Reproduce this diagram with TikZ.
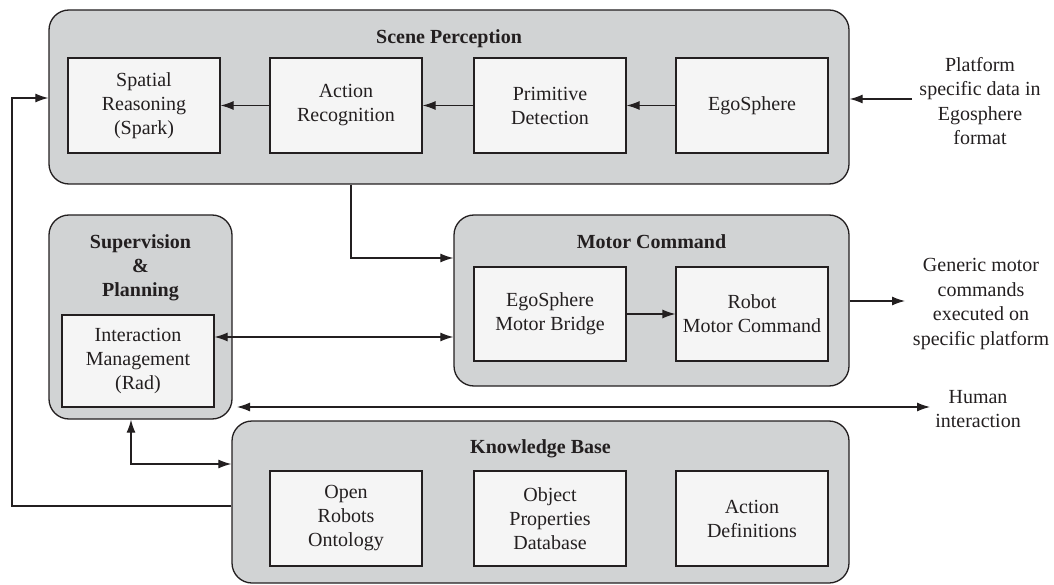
\documentclass[tikz,border=0pt]{standalone}
\usepackage{fontspec}
\setmainfont{Liberation Serif}
\usetikzlibrary{arrows.meta}
\definecolor{outerfill}{HTML}{D1D3D4}
\definecolor{innerfill}{HTML}{F5F5F5}
\definecolor{ink}{HTML}{231F20}
\begin{document}
\begin{tikzpicture}[x=1pt,y=-1pt,
  outerbox/.style={draw=ink, line width=1.3pt, fill=outerfill, rounded corners=20pt, inner sep=0pt},
  innerbox/.style={draw=ink, line width=1.2pt, fill=innerfill, minimum width=152pt, minimum height=95pt, inner sep=0pt, align=center, text=ink, font=\fontsize{20}{24}\selectfont},
  title/.style={font=\fontsize{20}{24}\selectfont\bfseries, align=center, inner sep=0pt, text=ink},
  lbl/.style={font=\fontsize{20}{24.5}\selectfont, align=center, inner sep=0pt, text=ink},
  tip/.style={},
  conn/.style={draw=ink, line width=1.2pt, -{Latex[length=13pt,width=9pt]}},
  biconn/.style={draw=ink, line width=1.2pt, {Latex[length=13pt,width=9pt]}-{Latex[length=13pt,width=9pt]}},
  ]
\useasboundingbox (0,0) rectangle (1054,585);

% outer groups
\node[outerbox, minimum width=800pt, minimum height=174pt] (sp) at (449,97) {};
\node[outerbox, minimum width=183pt, minimum height=204pt] (sup) at (140.5,317) {};
\node[outerbox, minimum width=395pt, minimum height=171pt] (mc) at (651.5,300.5) {};
\node[outerbox, minimum width=617pt, minimum height=162pt] (kb) at (540.5,502) {};

% titles
\node[title, anchor=base] (spt) at (449,44) {Scene Perception};
\node[title] (supt) at (140.5,268) {Supervision\\\&\\Planning};
\node[title, anchor=base] (mct) at (651.5,248) {Motor Command};
\node[title, anchor=base] (kbt) at (540.5,453) {Knowledge Base};

% inner boxes
\node[innerbox] (spatial) at (144,105.5) {Spatial\\Reasoning\\(Spark)};
\node[innerbox] (action) at (346,105.5) {Action\\Recognition};
\node[innerbox] (prim) at (550,105.5) {Primitive\\Detection};
\node[innerbox] (ego) at (752,105.5) {EgoSphere};

\node[innerbox, minimum height=92pt] (im) at (138,361) {Interaction\\Management\\(Rad)};

\node[innerbox, minimum height=94pt] (bridge) at (550,314) {EgoSphere\\Motor Bridge};
\node[innerbox, minimum height=94pt] (robot) at (752,314) {Robot\\Motor Command};

\node[innerbox] (oro) at (346,518.5) {Open\\Robots\\Ontology};
\node[innerbox] (opd) at (550,518.5) {Object\\Properties\\Database};
\node[innerbox] (adef) at (752,518.5) {Action\\Definitions};

% external labels
\node[lbl] (plat) at (980,101) {Platform\\specific data in\\Egosphere\\format};
\node[lbl] (gen) at (981,304) {Generic motor\\commands\\executed on\\specific platform};
\node[lbl] (hum) at (978,409) {Human\\interaction};

% connectors inside scene perception
\draw[conn] (ego) -- (prim);
\draw[conn] (prim) -- (action);
\draw[conn] (action) -- (spatial);
\draw[conn] (bridge) -- (robot);

% platform input
\coordinate (pin) at (912,99);
\draw[conn] (pin) -- (pin -| sp.east);

% feedback from knowledge base to scene perception
\coordinate (fb1) at (12,98);
\coordinate (fb2) at (12,506);
\draw[conn] (kb.west |- fb2) -- (fb2) -- (fb1) -- (fb1 -| sp.west);

% scene perception to motor command
\coordinate (smx) at (351,258);
\draw[conn] (sp.south -| smx) -- (smx) -- (smx -| mc.west);

% interaction management <-> motor command
\coordinate (ia) at (300,337);
\draw[biconn] (ia -| im.east) -- (ia -| mc.west);

% motor output
\coordinate (mo) at (905,301);
\draw[conn] (mo -| mc.east) -- (mo);

% human interaction
\coordinate (hl) at (237,407);
\coordinate (hr) at (930,407);
\draw[biconn] (hl) -- (hr);

% supervision <-> knowledge base
\coordinate (sk) at (131,464);
\draw[biconn] (sup.south -| sk) -- (sk) -- (sk -| kb.west);
\end{tikzpicture}
\end{document}
